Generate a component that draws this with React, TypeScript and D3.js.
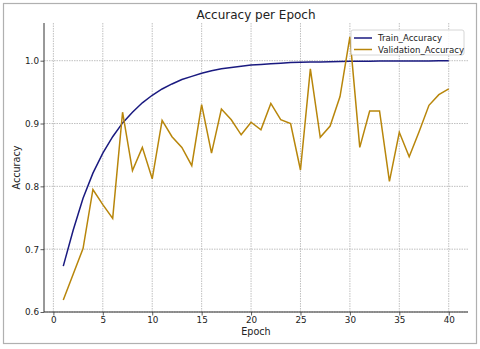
import React, { useEffect, useRef } from 'react';
import * as d3 from 'd3';

const epochs = [1, 2, 3, 4, 5, 6, 7, 8, 9, 10, 11, 12, 13, 14, 15, 16, 17, 18, 19, 20,
  21, 22, 23, 24, 25, 26, 27, 28, 29, 30, 31, 32, 33, 34, 35, 36, 37, 38, 39, 40];

const trainAccuracy = [0.673, 0.73, 0.781, 0.821, 0.853, 0.879, 0.901, 0.918, 0.933, 0.945,
  0.955, 0.963, 0.970, 0.975, 0.980, 0.984, 0.987, 0.989, 0.991, 0.993,
  0.994, 0.995, 0.996, 0.997, 0.9975, 0.998, 0.998, 0.9985, 0.9988, 0.999,
  0.999, 0.9992, 0.9994, 0.9995, 0.9996, 0.9996, 0.9997, 0.9997, 0.9998, 0.9998];

const valAccuracy = [0.619, 0.66, 0.701, 0.795, 0.771, 0.749, 0.918, 0.825, 0.862, 0.812,
  0.905, 0.879, 0.862, 0.833, 0.930, 0.853, 0.923, 0.906, 0.882, 0.902,
  0.890, 0.932, 0.906, 0.900, 0.826, 0.987, 0.878, 0.896, 0.943, 1.038,
  0.862, 0.920, 0.920, 0.808, 0.886, 0.847, 0.887, 0.929, 0.946, 0.955];

const xTicks = [0, 5, 10, 15, 20, 25, 30, 35, 40];
const yTicks = [0.6, 0.7, 0.8, 0.9, 1.0];

const series = [
  { name: 'Train_Accuracy', values: trainAccuracy, color: '#1a1a80' },
  { name: 'Validation_Accuracy', values: valAccuracy, color: '#b8860b' },
];

const W = 480;
const H = 349;

export default function App() {
  const svgRef = useRef<SVGSVGElement | null>(null);

  useEffect(() => {
    const svg = d3.select(svgRef.current);
    svg.selectAll('*').remove();

    const margin = { top: 23, right: 12, bottom: 37, left: 44 };
    const width = W - margin.left - margin.right;
    const height = H - margin.top - margin.bottom;
    const font = 'DejaVu Sans, sans-serif';

    svg.append('rect')
      .attr('x', 0).attr('y', 0).attr('width', W).attr('height', H)
      .attr('fill', '#fff');
    // outer frame of the screenshot
    svg.append('rect')
      .attr('x', 3.5).attr('y', 3.5).attr('width', 473).attr('height', 340)
      .attr('fill', 'none').attr('stroke', '#b0b0b0').attr('stroke-width', 1.2);

    const g = svg.append('g').attr('transform', `translate(${margin.left},${margin.top})`);

    const x = d3.scaleLinear().domain([-0.95, 41.95]).range([0, width]);
    const y = d3.scaleLinear().domain([0.6, 1.06]).range([height, 0]);

    // grid
    g.append('g').selectAll('line').data(xTicks).enter().append('line')
      .attr('x1', d => x(d)).attr('x2', d => x(d))
      .attr('y1', 0).attr('y2', height)
      .attr('stroke', '#b0b0b0').attr('stroke-width', 0.8).attr('stroke-dasharray', '1.5,1');
    g.append('g').selectAll('line').data(yTicks).enter().append('line')
      .attr('x1', 0).attr('x2', width)
      .attr('y1', d => y(d)).attr('y2', d => y(d))
      .attr('stroke', '#b0b0b0').attr('stroke-width', 0.8).attr('stroke-dasharray', '1.5,1');

    // lines
    const line = d3.line<number>()
      .x((d, i) => x(epochs[i]))
      .y(d => y(d));
    series.forEach(s => {
      g.append('path')
        .datum(s.values)
        .attr('d', line)
        .attr('fill', 'none')
        .attr('stroke', s.color)
        .attr('stroke-width', 1.5);
    });

    // axes
    const xAxis = g.append('g')
      .attr('transform', `translate(0,${height})`)
      .call(d3.axisBottom(x).tickValues(xTicks).tickSize(3.5).tickPadding(1.5).tickFormat(d3.format('d')));
    const yAxis = g.append('g')
      .call(d3.axisLeft(y).tickValues(yTicks).tickSize(3.5).tickPadding(1.5).tickFormat(d3.format('.1f')));
    [xAxis, yAxis].forEach(a => {
      a.select('.domain').attr('stroke', '#333').attr('stroke-width', 1);
      a.selectAll('.tick line').attr('stroke', '#333').attr('stroke-width', 0.8);
      a.selectAll('.tick text').attr('font-family', font).attr('font-size', 8.8).attr('fill', '#222');
    });
    // plain spines, no end caps
    xAxis.select('.domain').attr('d', `M0,0H${width}`);
    yAxis.select('.domain').attr('d', `M0,${height}V0`);

    // labels
    svg.append('text')
      .attr('x', margin.left + width / 2).attr('y', 19)
      .attr('text-anchor', 'middle')
      .attr('font-family', font).attr('font-size', 12).attr('fill', '#222')
      .text('Accuracy per Epoch');
    svg.append('text')
      .attr('x', margin.left + width / 2).attr('y', 335)
      .attr('text-anchor', 'middle')
      .attr('font-family', font).attr('font-size', 9.6).attr('fill', '#222')
      .text('Epoch');
    svg.append('text')
      .attr('transform', `translate(20,${margin.top + height / 2}) rotate(-90)`)
      .attr('text-anchor', 'middle')
      .attr('font-family', font).attr('font-size', 9.6).attr('fill', '#222')
      .text('Accuracy');

    // legend
    const lg = svg.append('g').attr('transform', 'translate(351,30)');
    lg.append('rect')
      .attr('width', 113).attr('height', 25).attr('rx', 2)
      .attr('fill', '#fff').attr('fill-opacity', 0.85)
      .attr('stroke', '#cccccc').attr('stroke-width', 0.8);
    series.forEach((s, i) => {
      const yy = 8 + i * 11.5;
      lg.append('line')
        .attr('x1', 3).attr('x2', 21).attr('y1', yy).attr('y2', yy)
        .attr('stroke', s.color).attr('stroke-width', 1.5);
      lg.append('text')
        .attr('x', 27).attr('y', yy + 3.3)
        .attr('font-family', font).attr('font-size', 8.6).attr('fill', '#222')
        .text(s.name);
    });
  }, []);

  return (
    <svg ref={svgRef} width={W} height={H}
      style={{ position: 'absolute', left: 0, top: 0, display: 'block' }} />
  );
}
